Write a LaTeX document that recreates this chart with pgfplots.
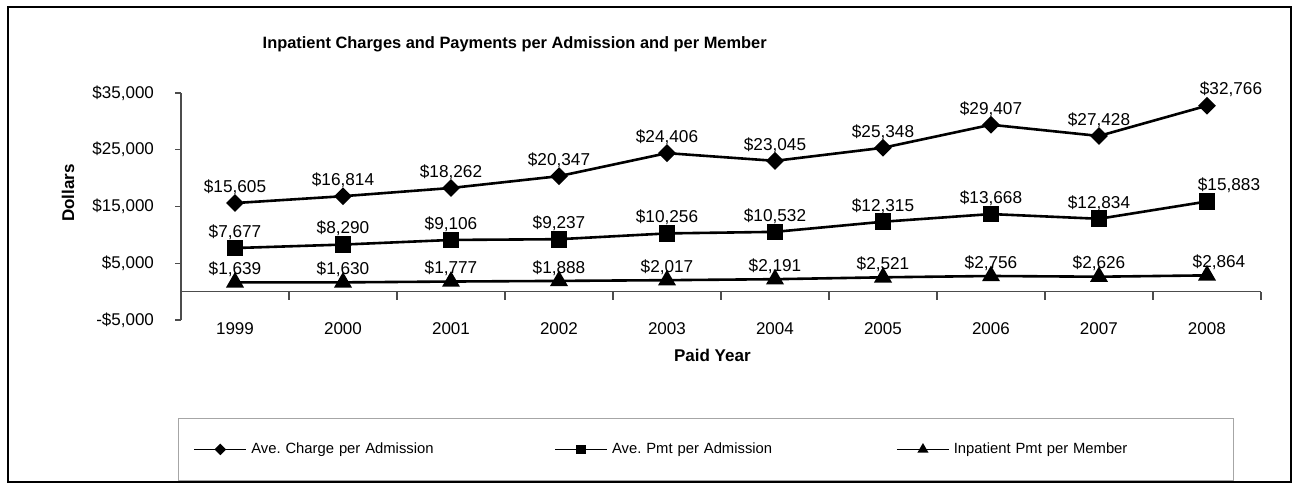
\documentclass[border=0pt]{standalone}
\usepackage{fontspec}
\setmainfont{Liberation Sans}
\usepackage{pgfplots}
\usepackage{pgfplotstable}
\pgfplotsset{compat=1.18}

\pgfplotstableread{
year charge pmt member
1999 15605 7677 1639
2000 16814 8290 1630
2001 18262 9106 1777
2002 20347 9237 1888
2003 24406 10256 2017
2004 23045 10532 2191
2005 25348 12315 2521
2006 29407 13668 2756
2007 27428 12834 2626
2008 32766 15883 2864
}\ipdata

\begin{document}
\begin{tikzpicture}
  \begin{axis}[
      scale only axis, width=540pt, height=113.5pt,
      xmin=1998.5, xmax=2008.5, ymin=-5000, ymax=35000,
      clip=false,
      axis x line=middle, axis y line=left,
      x axis line style={-, gray!60!black, line width=0.6pt},
      y axis line style={-, gray!60!black, line width=0.6pt},
      xtick={1999,...,2008},
      minor xtick={1998.5,1999.5,...,2008.5},
      major x tick style={draw=none},
      minor x tick style={gray!60!black, line width=0.6pt},
      minor tick length=4pt,
      tick align=outside,
      major tick length=3pt,
      major y tick style={gray!60!black, line width=0.6pt},
      scaled y ticks=false,
      ytick={-5000,5000,15000,25000,35000},
      yticklabels={{-\$5,000},{\$5,000},{\$15,000},{\$25,000},{\$35,000}},
      yticklabel style={font=\fontsize{8.5}{10}\selectfont, anchor=east, xshift=-7pt},
      xticklabel style={font=\fontsize{8.5}{10}\selectfont, anchor=center, yshift=-15.7pt,
        /pgf/number format/1000 sep=, /pgf/number format/assume math mode=true},
      title={Inpatient Charges and Payments per Admission and per Member},
      title style={font=\bfseries\fontsize{8.2}{10}\selectfont, at={(0.309,1.225)}, anchor=center, yshift=-7pt},
      xlabel={Paid Year},
      xlabel style={font=\bfseries\fontsize{8.5}{10}\selectfont, at={(0.492,-0.154)}, anchor=center},
      ylabel={Dollars},
      ylabel style={font=\bfseries\fontsize{8.5}{10}\selectfont, at={(-0.1046,0.559)}, anchor=center},
      point meta=y,
      nodes near coords={\$\pgfmathprintnumber[fixed, precision=0, 1000 sep={,}, assume math mode=true]{\pgfplotspointmeta}},
      every node near coord/.append style={font=\fontsize{8.6}{10}\selectfont, black, anchor=center},
      legend columns=3,
      legend cell align=left,
      legend style={at={(-0.0028,-0.432)}, anchor=north west, draw=gray!70, line width=0.5pt,
        inner xsep=7.5pt, inner ysep=10pt, font=\fontsize{7.4}{9}\selectfont,
        /tikz/every even column/.append style={column sep=0pt}},
      legend image code/.code={\draw[mark repeat=2, mark phase=2, #1]
        plot coordinates {(0pt,0pt) (13pt,0pt) (26pt,0pt)};},
    ]
    \addplot[black, line width=1.3pt, mark=square*, mark size=2.5pt,
      mark options={rotate=45, fill=black},
      every node near coord/.append style={yshift=8pt},
      coordinate style/.condition={x>2007.5}{xshift=12pt},
      legend image post style={mark size=1.6pt, line width=0.9pt}]
      table[x=year, y=charge] {\ipdata};
    \addlegendentry[text width=149.5pt, align=left]{Ave.\ Charge per Admission}
    \addplot[black, line width=1.3pt, mark=square*, mark size=3.5pt,
      mark options={fill=black},
      every node near coord/.append style={yshift=8pt},
      coordinate style/.condition={x>2007.5}{xshift=11pt},
      legend image post style={mark size=2pt, line width=0.9pt}]
      table[x=year, y=pmt] {\ipdata};
    \addlegendentry[text width=140pt, align=left]{Ave.\ Pmt per Admission}
    \addplot[black, line width=1.3pt, mark=triangle*, mark size=3.9pt,
      mark options={fill=black},
      every node near coord/.append style={yshift=6.5pt},
      coordinate style/.condition={x>2007.5}{xshift=6pt},
      legend image post style={mark size=2.3pt, line width=0.9pt}]
      table[x=year, y=member] {\ipdata};
    \addlegendentry[text width=130.5pt, align=left]{Inpatient Pmt per Member}
    \draw[black, line width=0.9pt] (rel axis cs:0,0) ++(-86.5pt,-81pt) rectangle ++(641.5pt,237.5pt);
    \path (rel axis cs:0,0) ++(-90.5pt,-83pt) rectangle ++(648pt,243pt);
  \end{axis}
\end{tikzpicture}
\end{document}
